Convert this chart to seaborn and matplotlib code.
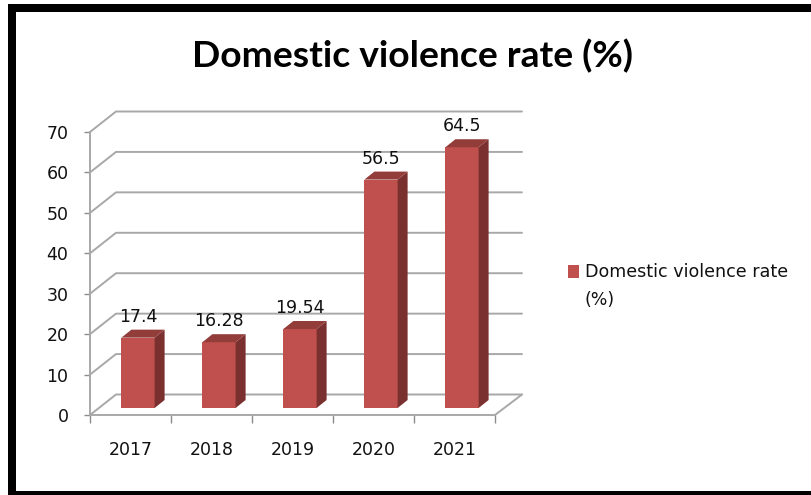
import matplotlib
matplotlib.use("Agg")
import matplotlib.pyplot as plt
from matplotlib.patches import Polygon, Rectangle
import pandas as pd
import seaborn as sns

years = ["2017", "2018", "2019", "2020", "2021"]
rates = [17.4, 16.28, 19.54, 56.5, 64.5]
rate_labels = ["17.4", "16.28", "19.54", "56.5", "64.5"]
y_ticks = [0, 10, 20, 30, 40, 50, 60, 70]
series_name = "Domestic violence rate (%)"

W, H = 812, 495
sns.set_style("white")
plt.rcParams["font.family"] = ["DejaVu Sans"]
df = pd.DataFrame({"year": years, "rate": rates})

fig = plt.figure(figsize=(W / 100, H / 100), dpi=100)


def box(left, top, right, bottom):
    return [left / W, 1 - bottom / H, (right - left) / W, (bottom - top) / H]


def line(xs, ys, color="#a8a8a8", lw=1.4):
    # xs, ys in image pixels
    fig.add_artist(plt.Line2D([x / W for x in xs], [1 - y / H for y in ys], color=color, lw=lw, zorder=-1))


# front plane of the chart, holds the ticks
ax = fig.add_axes(box(90, 132, 495, 415))
ax.set_xlim(-0.5, 4.5)
ax.set_ylim(0, 70)
ax.patch.set_alpha(0)
for s in ["top", "right"]:
    ax.spines[s].set_visible(False)
for s in ["left", "bottom"]:
    ax.spines[s].set_color("#a8a8a8")
    ax.spines[s].set_linewidth(1.4)
ax.set_yticks(y_ticks)
ax.set_xticks([-0.5, 0.5, 1.5, 2.5, 3.5, 4.5])
ax.set_xticklabels([])
ax.tick_params(axis="both", width=1, color="#8c8c8c", left=True, bottom=True, labelsize=12.5, labelcolor="#111111")
ax.tick_params(axis="y", length=4.5, pad=11)
ax.tick_params(axis="x", length=6)
for i, yr in enumerate(years):
    ax.text(i, -8.7, yr, ha="center", va="center", fontsize=12.5, color="#111111")

# back wall and floor lines
for v in y_ticks:
    y = 415 - v * 283 / 70
    line([90, 116, 522], [y, y - 20.5, y - 20.5])
line([495, 522], [415, 394.5])

# bars sit a little behind the front plane
bar_ax = fig.add_axes(box(97.5, 125, 502.5, 408))
sns.barplot(data=df, x="year", y="rate", color="#c0504d", width=0.41, saturation=1,
            edgecolor="none", linewidth=0, ax=bar_ax)
bar_ax.set_xlim(-0.5, 4.5)
bar_ax.set_ylim(0, 70)
bar_ax.axis("off")
bar_ax.patch.set_alpha(0)

for bar, label in zip(bar_ax.patches, rate_labels):
    x0, x1 = bar.get_x(), bar.get_x() + bar.get_width()
    h = bar.get_height()
    (px0, py0), (px1, py1) = bar_ax.transData.transform([(x0, 0), (x1, h)])
    dx, dy = 10, 8
    side = Polygon([(px1, py0), (px1 + dx, py0 + dy), (px1 + dx, py1 + dy), (px1, py1)],
                   closed=True, color="#7a302e", lw=0, transform=None)
    top = Polygon([(px0, py1), (px0 + dx, py1 + dy), (px1 + dx, py1 + dy), (px1, py1)],
                  closed=True, color="#933d3b", lw=0, transform=None)
    fig.add_artist(side)
    fig.add_artist(top)
    bar_ax.annotate(label, ((x0 + x1) / 2, h), xytext=(0, 21), textcoords="offset pixels",
                    ha="center", va="center", fontsize=12.5, color="#111111")

# title and legend
fig.text(413 / W, 1 - 56 / H, series_name, ha="center", va="center", fontsize=26.8,
         fontweight="bold", family="Lato", color="#000000")
fig.add_artist(Rectangle((568 / W, 1 - 278 / H), 11 / W, 13 / H, color="#c0504d", lw=0))
fig.text(585 / W, 1 - 272 / H, "Domestic violence rate", ha="left", va="center", fontsize=12.6, color="#111111")
fig.text(585 / W, 1 - 300 / H, "(%)", ha="left", va="center", fontsize=12.5, color="#111111")

# black picture frame
fig.add_artist(Rectangle((8 / W, 1 - 12 / H), 804 / W, 8 / H, color="black", lw=0))
fig.add_artist(Rectangle((8 / W, 0), 8 / W, 1 - 4 / H, color="black", lw=0))
fig.add_artist(Rectangle((8 / W, 0), 804 / W, 4 / H, color="black", lw=0))

fig.savefig("out.png", dpi=100)
